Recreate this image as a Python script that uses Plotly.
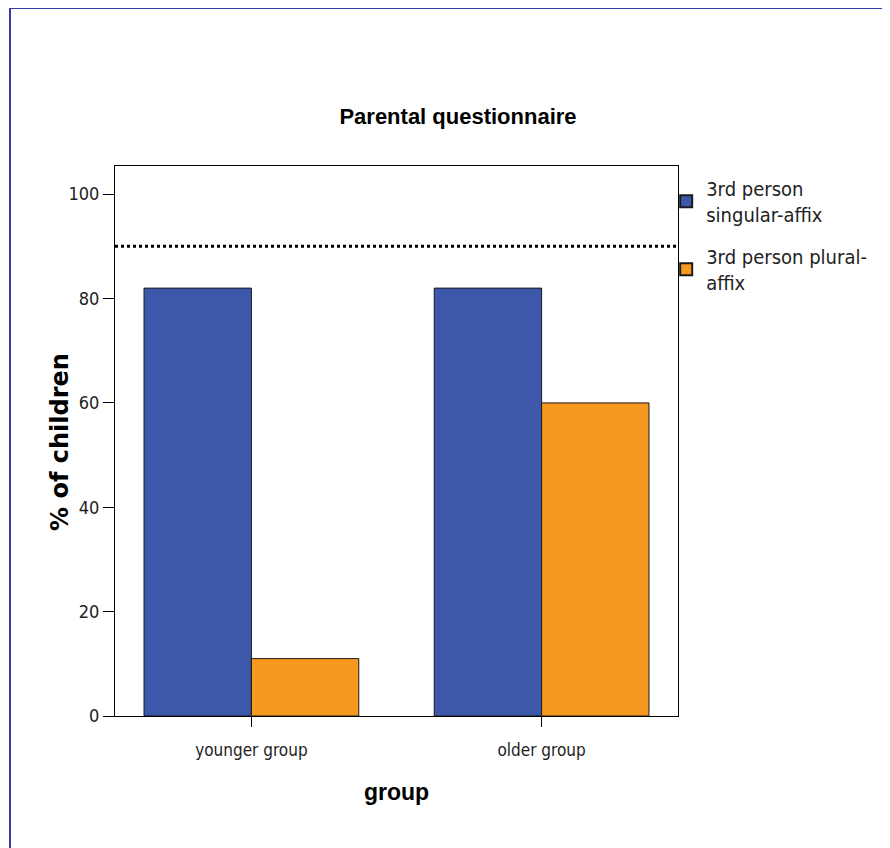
import plotly.graph_objects as go

categories = ["younger group", "older group"]
singular = [82, 82]
plural = [11, 60]
reference_line = 90
y_ticks = [0, 20, 40, 60, 80, 100]

narrow = "DejaVu Sans Condensed, Liberation Sans Narrow, Arial Narrow, sans-serif"

W, H = 882, 840
L, T, R, B = 107, 158, 212, 132
PW, PH = W - L - R, H - T - B

fig = go.Figure()
fig.add_trace(go.Bar(x=categories, y=singular, name="3rd person<br>singular-affix", legendgroup="a",
                     marker=dict(color="#3D58AA", line=dict(color="#1a1a1a", width=1))))
fig.add_trace(go.Bar(x=categories, y=plural, name="3rd person plural-<br>affix", legendgroup="b",
                     marker=dict(color="#F7991F", line=dict(color="#1a1a1a", width=1))))

fig.add_shape(type="line", xref="paper", yref="y", x0=0, x1=1, y0=reference_line, y1=reference_line,
              line=dict(color="black", width=3, dash="dot"))

# outer border (top and left)
bx = (2 - L) / PW
fig.add_shape(type="line", xref="paper", yref="paper", x0=bx, x1=(W - L + 10) / PW, y0=1 + T / PH, y1=1 + T / PH,
              line=dict(color="#3A3AB0", width=2))
fig.add_shape(type="line", xref="paper", yref="paper", x0=bx, x1=bx, y0=1 + T / PH, y1=-(B + 10) / PH,
              line=dict(color="#3A3AB0", width=2))

# y-axis title
fig.add_annotation(text="<b>% of children</b>", xref="paper", yref="paper",
                   x=(60 - 8 - L) / PW, y=(716 - 442) / PH, xanchor="center", yanchor="middle",
                   textangle=-90, showarrow=False,
                   font=dict(family="DejaVu Sans, Verdana, sans-serif", size=24, color="black"))

fig.update_layout(
    width=W, height=H,
    margin=dict(l=L, r=R, t=T, b=B, autoexpand=False),
    paper_bgcolor="white", plot_bgcolor="white",
    barmode="group", bargap=0.26, bargroupgap=0,
    title=dict(text="<b>Parental questionnaire</b>", x=(458 - 8) / W, xanchor="center",
               y=1 - 108 / H, yanchor="middle",
               font=dict(family="Liberation Sans, Arial, sans-serif", size=22, color="black")),
    xaxis=dict(range=[-0.47, 1.47], showline=True, linecolor="black", linewidth=1, mirror=True,
               ticks="outside", ticklen=10, tickcolor="black", ticklabelstandoff=9,
               tickfont=dict(family=narrow, size=17, color="#222"),
               title=dict(text="<b>group</b>", font=dict(family="Liberation Sans, Arial, sans-serif", size=23, color="black"),
                          standoff=24)),
    yaxis=dict(range=[0, 105.4], tickvals=y_ticks, showline=True, linecolor="black", linewidth=1, mirror=True,
               ticks="outside", ticklen=11, tickcolor="black", showgrid=False, zeroline=False,
               tickfont=dict(family=narrow, size=18, color="#222")),
    legend=dict(x=0.979, xanchor="left", y=0.995, yanchor="top", bgcolor="rgba(0,0,0,0)",
                font=dict(family=narrow, size=20, color="#222"), traceorder="grouped",
                tracegroupgap=13, itemsizing="constant", itemwidth=30),
)

fig.write_html("out.html")
